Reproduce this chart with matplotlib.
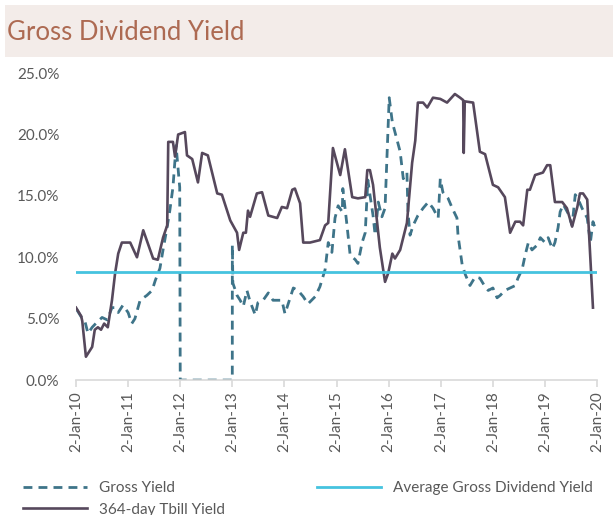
import matplotlib
matplotlib.use("Agg")
import matplotlib.pyplot as plt
from matplotlib.patches import Rectangle
from matplotlib.ticker import FuncFormatter
import pandas as pd

# series sampled at years elapsed since 2-Jan-2010, values in percent
tbill_t = [0.00, 0.10, 0.12, 0.19, 0.31, 0.36, 0.42, 0.48, 0.54, 0.61, 0.69, 0.75, 0.81, 0.88,
           1.04, 1.17, 1.29, 1.48, 1.57, 1.67, 1.75, 1.77, 1.86, 1.90, 1.96, 2.09, 2.13, 2.23,
           2.34, 2.42, 2.53, 2.71, 2.80, 2.96, 3.09, 3.13, 3.21, 3.26, 3.30, 3.34, 3.47, 3.57,
           3.69, 3.86, 3.95, 4.05, 4.15, 4.20, 4.30, 4.36, 4.49, 4.68, 4.78, 4.84, 4.93, 5.07,
           5.16, 5.30, 5.41, 5.55, 5.59, 5.64, 5.70, 5.83, 5.93, 5.99, 6.07, 6.12, 6.22, 6.35,
           6.45, 6.51, 6.56, 6.66, 6.74, 6.85, 6.99, 7.12, 7.27, 7.37, 7.43, 7.44, 7.46, 7.62,
           7.75, 7.85, 8.00, 8.10, 8.23, 8.33, 8.43, 8.52, 8.58, 8.66, 8.71, 8.81, 8.96, 9.04,
           9.10, 9.19, 9.33, 9.42, 9.52, 9.62, 9.67, 9.73, 9.81, 9.92]
tbill_v = [5.9, 5.2, 4.8, 1.9, 2.7, 4.1, 4.3, 4.1, 4.6, 4.3, 6.5, 8.7, 10.3, 11.2,
           11.2, 10.0, 12.2, 9.9, 9.8, 11.6, 12.6, 19.4, 19.4, 18.2, 20.0, 20.2, 18.3, 18.0,
           16.1, 18.5, 18.3, 15.2, 15.1, 13.0, 12.0, 10.6, 12.0, 12.0, 13.8, 13.3, 15.2, 15.3,
           13.4, 13.2, 14.1, 14.0, 15.5, 15.6, 14.4, 11.2, 11.2, 11.4, 12.6, 12.8, 18.9, 16.7,
           18.8, 14.9, 14.8, 14.9, 17.1, 17.1, 15.9, 10.8, 8.0, 8.7, 10.3, 9.9, 10.6, 12.8,
           17.7, 19.5, 22.6, 22.6, 22.2, 23.0, 22.9, 22.6, 23.3, 23.0, 22.8, 18.5, 22.7, 22.6,
           18.6, 18.4, 15.9, 15.7, 14.9, 12.0, 12.9, 12.9, 12.6, 15.5, 15.5, 16.7, 16.9, 17.5,
           17.5, 14.5, 14.5, 14.0, 12.5, 14.1, 15.2, 15.2, 14.7, 5.9]

gross_t = [0.02, 0.12, 0.17, 0.23, 0.31, 0.40, 0.50, 0.60, 0.69, 0.75, 0.81, 0.90, 1.00, 1.07,
           1.13, 1.23, 1.36, 1.46, 1.52, 1.61, 1.67, 1.75, 1.80, 1.86, 1.92, 1.96, 1.99, 2.00,
           2.999, 3.00, 3.01, 3.09, 3.15, 3.21, 3.28, 3.34, 3.44, 3.49, 3.59, 3.69, 3.78, 3.86,
           3.95, 4.01, 4.11, 4.17, 4.26, 4.36, 4.45, 4.59, 4.68, 4.78, 4.84, 4.91, 4.97, 5.03,
           5.11, 5.12, 5.20, 5.26, 5.36, 5.41, 5.49, 5.55, 5.60, 5.64, 5.70, 5.74, 5.80, 5.87,
           5.93, 5.97, 6.01, 6.07, 6.12, 6.22, 6.28, 6.35, 6.37, 6.41, 6.47, 6.56, 6.66, 6.76,
           6.85, 6.95, 6.99, 7.04, 7.14, 7.22, 7.31, 7.33, 7.41, 7.47, 7.56, 7.66, 7.75, 7.85,
           7.91, 8.00, 8.08, 8.14, 8.23, 8.33, 8.43, 8.48, 8.56, 8.62, 8.68, 8.75, 8.85, 8.91,
           9.00, 9.06, 9.14, 9.19, 9.25, 9.29, 9.35, 9.44, 9.52, 9.58, 9.64, 9.71, 9.81, 9.87,
           9.92, 9.96]
gross_v = [5.7, 5.0, 4.8, 3.8, 4.3, 4.7, 5.1, 4.9, 5.9, 5.9, 5.5, 6.1, 5.5, 4.6,
           5.0, 6.5, 6.9, 7.3, 8.1, 9.1, 10.6, 12.5, 13.8, 15.7, 19.1, 17.1, 15.7, 0.0,
           0.0, 11.0, 7.9, 6.9, 6.5, 6.0, 7.3, 6.4, 5.3, 6.3, 6.5, 7.1, 6.5, 6.5,
           6.5, 5.4, 6.7, 7.5, 7.3, 6.8, 6.2, 6.8, 7.6, 9.0, 11.2, 10.4, 13.2, 14.2,
           13.7, 15.6, 12.6, 10.2, 9.8, 9.5, 11.2, 12.0, 16.3, 15.1, 13.4, 11.8, 14.5, 13.3,
           14.0, 18.6, 23.0, 21.0, 20.2, 18.6, 16.4, 16.9, 13.7, 11.8, 12.6, 13.4, 14.0, 14.5,
           14.0, 13.2, 16.4, 15.3, 14.8, 14.0, 13.2, 11.8, 9.4, 8.6, 7.7, 8.4, 8.3, 7.6,
           7.3, 7.5, 6.7, 6.9, 7.3, 7.5, 7.7, 8.3, 9.0, 10.2, 11.2, 10.6, 11.0, 11.6,
           11.2, 11.6, 10.7, 11.2, 12.4, 13.7, 14.3, 13.6, 12.6, 15.1, 14.7, 14.0, 13.2, 11.2,
           12.9, 12.4]

avg_yield = 8.8
years = list(range(2010, 2021))
tick_labels = ["2-Jan-%02d" % (y % 100) for y in years]

start = pd.Timestamp("2010-01-02")


def to_dates(t):
    return [start + pd.Timedelta(days=x * 365.25) for x in t]


tick_dates = [pd.Timestamp(year=y, month=1, day=2) for y in years]

plt.rcParams["font.family"] = ["Lato", "DejaVu Sans"]
GREY = "#595959"

fig = plt.figure(figsize=(6.13, 5.15), dpi=100)
ax = fig.add_axes([0.124, 0.262, 0.850, 0.596])

# heading band
fig.patches.append(Rectangle((5 / 613, 1 - 57 / 515), 1, 52 / 515, transform=fig.transFigure,
                             facecolor="#F3ECE9", edgecolor="none", zorder=0))
fig.text(7 / 613, 1 - 33 / 515, "Gross Dividend Yield", fontsize=18.5, color="#AD6A52",
         va="center", ha="left")

ax.plot(to_dates(gross_t), gross_v, color="#3E7489", lw=2.0, ls=(0, (3.2, 2.2)),
        label="Gross Yield")
ax.plot(to_dates(tbill_t), tbill_v, color="#56485C", lw=1.9, label="364-day Tbill Yield")
ax.plot([tick_dates[0], tick_dates[-1]], [avg_yield, avg_yield], color="#45C3DF", lw=2.0,
        label="Average Gross Dividend Yield")

ax.set_xlim(tick_dates[0], tick_dates[-1])
ax.set_ylim(0, 25)
ax.set_yticks([0, 5, 10, 15, 20, 25])
ax.yaxis.set_major_formatter(FuncFormatter(lambda v, p: "%.1f%%" % v))
ax.set_xticks(tick_dates)
ax.set_xticklabels(tick_labels, rotation=90)

for s in ["top", "right", "left"]:
    ax.spines[s].set_visible(False)
ax.spines["bottom"].set_color("#D9D9D9")
ax.spines["bottom"].set_linewidth(1.2)
ax.tick_params(axis="y", length=0, labelsize=11, labelcolor=GREY, pad=12)
ax.tick_params(axis="x", length=5, color="#D9D9D9", width=1.2, labelsize=11,
               labelcolor=GREY, pad=3)

h, l = ax.get_legend_handles_labels()
fig.legend(h, l, loc="lower left", bbox_to_anchor=(0.015, -0.03), ncol=2, frameon=False,
           fontsize=11, labelcolor=GREY, handlelength=4.2, handletextpad=0.8,
           columnspacing=6.0, labelspacing=0.5)

fig.savefig("out.png", dpi=100)
